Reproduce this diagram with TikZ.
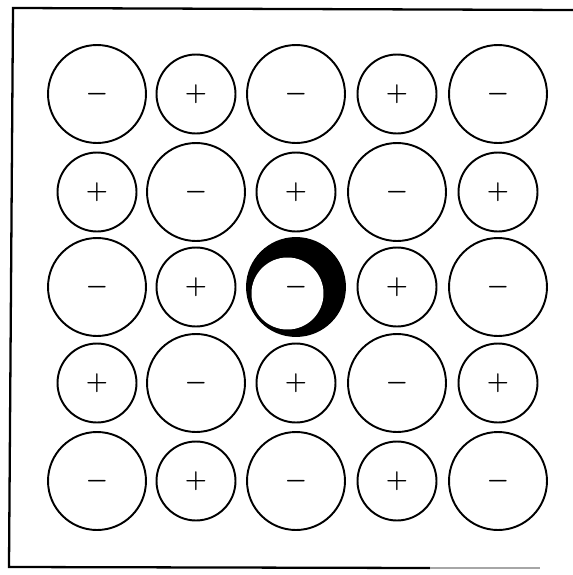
\documentclass[tikz,border=0pt]{standalone}
\usepackage{amsmath,amssymb}
\usepackage{tikz}
\usetikzlibrary{positioning}
\tikzset{
  ion/.style={circle, draw, line width=1.1pt, inner sep=0pt, font=\Large\boldmath},
  anion/.style={ion, minimum size=1.96cm},
  cation/.style={ion, minimum size=1.58cm},
  vacancy/.style={anion, fill=black,
    path picture={\fill[white] ([shift={(-0.17cm,-0.13cm)}]path picture bounding box.center) circle[radius=0.72cm];}}
}

\begin{document}
\begin{tikzpicture}[x=0.02cm, y=-0.02cm]
        \useasboundingbox (0,0) rectangle (573,575);
        % frame, open on the right
        \draw[line width=1.3pt] (573,10) -- (13,8) -- (9,567) -- (430,568);
        \draw[line width=1.1pt, gray!70] (430,568) -- (540,568);
        % row 1
        \node[anion] (a11) at (97,94) {$-$};
        \node[cation] (c12) at (196,94) {$+$};
        \node[anion] (a13) at (296,94) {$-$};
        \node[cation] (c14) at (397,94) {$+$};
        \node[anion] (a15) at (498,94) {$-$};
        % row 2
        \node[cation] (c21) at (97,192) {$+$};
        \node[anion] (a22) at (196,192) {$-$};
        \node[cation] (c23) at (296,192) {$+$};
        \node[anion] (a24) at (397,192) {$-$};
        \node[cation] (c25) at (498,192) {$+$};
        % row 3, with the dark one in the middle
        \node[anion] (a31) at (97,287) {$-$};
        \node[cation] (c32) at (196,287) {$+$};
        \node[vacancy] (a33) at (296,287) {$-$};
        \node[cation] (c34) at (397,287) {$+$};
        \node[anion] (a35) at (498,287) {$-$};
        % row 4
        \node[cation] (c41) at (97,383) {$+$};
        \node[anion] (a42) at (196,383) {$-$};
        \node[cation] (c43) at (296,383) {$+$};
        \node[anion] (a44) at (397,383) {$-$};
        \node[cation] (c45) at (498,383) {$+$};
        % row 5
        \node[anion] (a51) at (97,481) {$-$};
        \node[cation] (c52) at (196,481) {$+$};
        \node[anion] (a53) at (296,481) {$-$};
        \node[cation] (c54) at (397,481) {$+$};
        \node[anion] (a55) at (498,481) {$-$};
      \end{tikzpicture}
\end{document}
